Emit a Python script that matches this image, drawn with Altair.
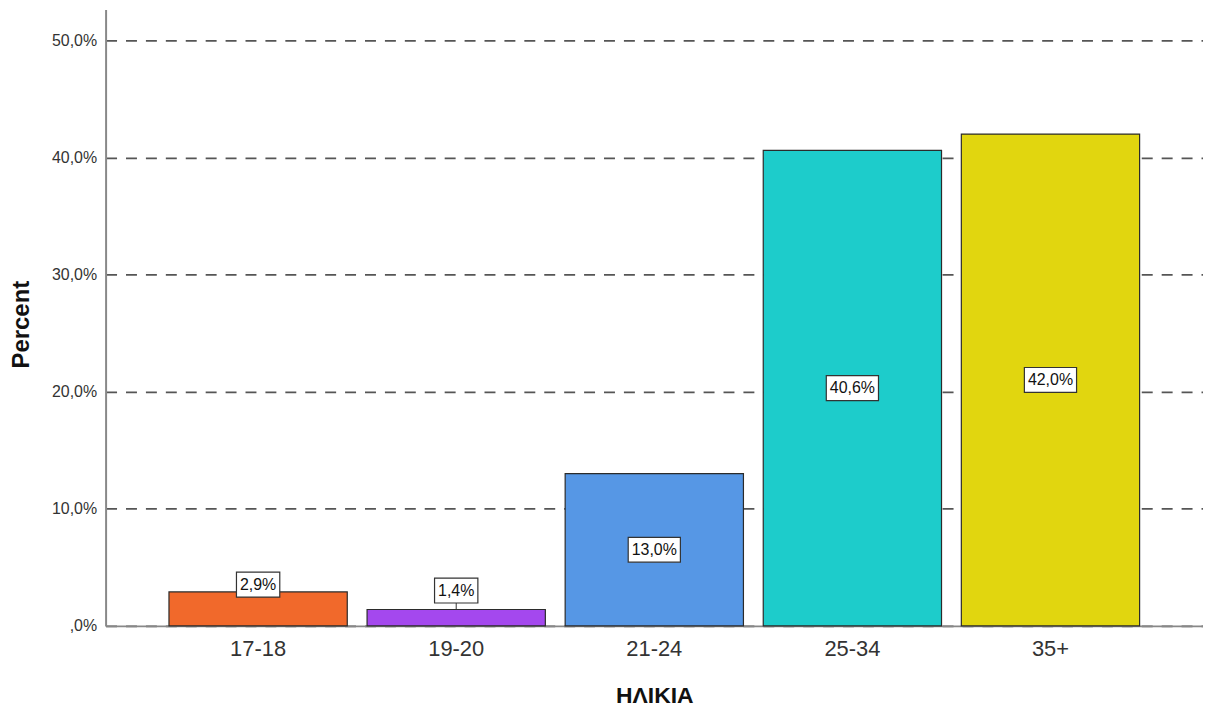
import altair as alt
import pandas as pd

categories = ["17-18", "19-20", "21-24", "25-34", "35+"]
percents = [2.9, 1.4, 13.0, 40.6, 42.0]
labels = ["2,9%", "1,4%", "13,0%", "40,6%", "42,0%"]
colors = ["#F1692B", "#A448EE", "#5697E5", "#1DCCCB", "#E1D60F"]
y_ticks = [0, 10, 20, 30, 40, 50]

df = pd.DataFrame({"cat": categories, "v": percents, "lab": labels})

FONT = "Liberation Sans"

x_enc = alt.X(
    "cat:N",
    sort=categories,
    scale=alt.Scale(paddingInner=0.1, paddingOuter=0.32),
    axis=alt.Axis(
        title="ΗΛΙΚΙΑ",
        labelAngle=0,
        labelFontSize=22,
        labelColor="#333333",
        labelFont=FONT,
        labelPadding=13,
        ticks=False,
        domainColor="#888888",
        domainWidth=2,
        titleFont=FONT,
        titleFontSize=23,
        titleFontWeight="bold",
        titleColor="#111111",
        titleY=70,
        titleBaseline="middle",
    ),
)

y_scale = alt.Scale(domain=[0, 52.64], nice=False, zero=True)

base = alt.Chart(df).transform_calculate(
    ly="datum.v < 5 ? 2.54 + 0.34 * datum.v : datum.v / 2",
    bw="(length(datum.lab) - 2) * 8.9 + 25.7",
)

bars = base.mark_bar(stroke="#2b2b2b", strokeWidth=1.2).encode(
    x=x_enc,
    y=alt.Y(
        "v:Q",
        scale=y_scale,
        axis=alt.Axis(
            title="Percent",
            values=y_ticks,
            labelExpr="datum.value == 0 ? ',0%' : replace(format(datum.value, '.1f'), '.', ',') + '%'",
            labelFontSize=16,
            labelColor="#333333",
            labelFont=FONT,
            labelPadding=9,
            ticks=False,
            domainColor="#888888",
            domainWidth=2,
            grid=True,
            gridDash=[11, 9],
            gridColor="#555555",
            gridWidth=1.8,
            titleFont=FONT,
            titleFontSize=24,
            titleFontWeight="bold",
            titleColor="#111111",
            titleAngle=270,
            titleX=-84,
            titleY=316,
            titleAlign="center",
            titleBaseline="middle",
        ),
    ),
    color=alt.Color("cat:N", sort=categories,
                    scale=alt.Scale(domain=categories, range=colors), legend=None),
)

leader = base.transform_filter("datum.v < 5").mark_rule(color="#333333", strokeWidth=1).encode(
    x=alt.X("cat:N", sort=categories),
    y=alt.Y("v:Q", scale=y_scale),
    y2="ly:Q",
)

boxes = base.mark_bar(
    fill="white", stroke="#333333", strokeWidth=1.2, yOffset=-12.5, y2Offset=12.5
).encode(
    x=alt.X("cat:N", sort=categories),
    y=alt.Y("ly:Q", scale=y_scale),
    y2="ly:Q",
    size=alt.Size("bw:Q", scale=None, legend=None),
)

texts = base.mark_text(fontSize=16, font=FONT, color="#111111", baseline="middle").encode(
    x=alt.X("cat:N", sort=categories),
    y=alt.Y("ly:Q", scale=y_scale),
    text="lab:N",
)

chart = (
    alt.layer(bars, leader, boxes, texts)
    .properties(
        width=1102,
        height=619,
        padding={"left": 98, "top": 0, "right": 0, "bottom": 80},
        autosize=alt.AutoSizeParams(type="none"),
        background="white",
    )
    .configure_view(stroke=None)
)

chart.save("out.html", embed_options={"renderer": "svg", "actions": False})
